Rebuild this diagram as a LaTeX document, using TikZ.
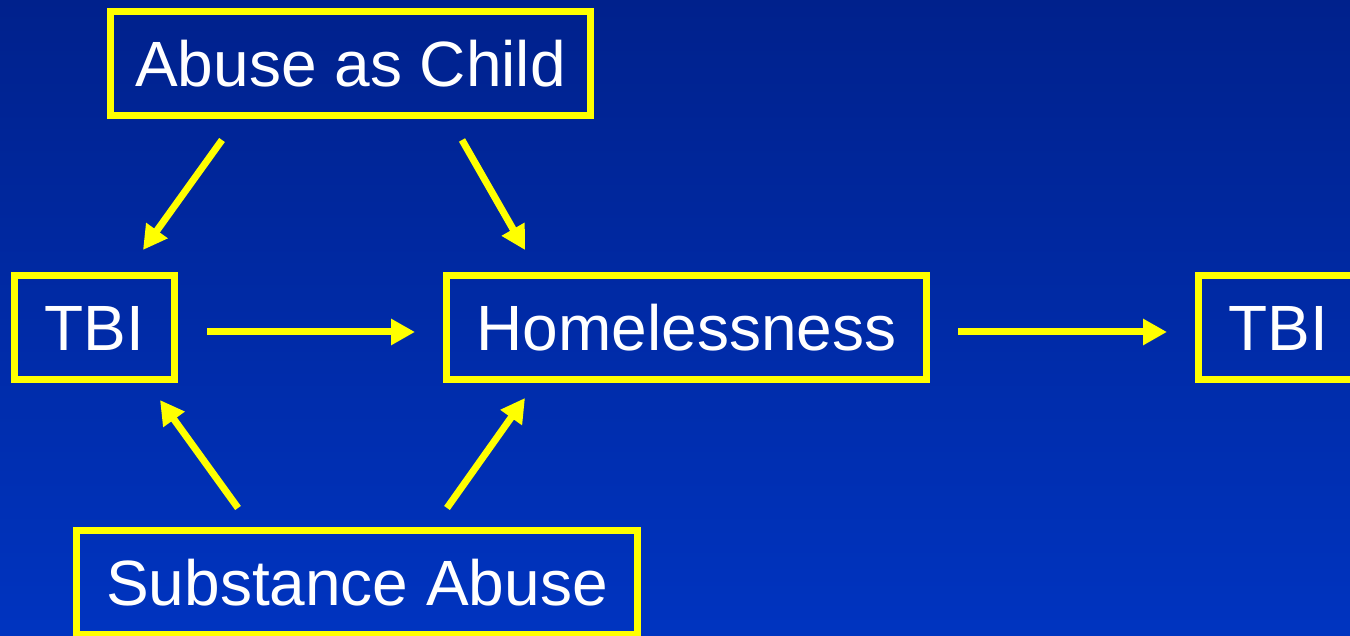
\documentclass[tikz,border=0pt]{standalone}
\usepackage{fontspec}
\setmainfont{Liberation Sans}
\usetikzlibrary{arrows.meta}
\definecolor{slideblue}{RGB}{0,33,140}
\definecolor{slideblue2}{RGB}{0,52,192}
\definecolor{boxyellow}{RGB}{255,255,0}

\begin{document}
\begin{tikzpicture}[x=1pt,y=1pt,
        box/.style={draw=boxyellow, line width=7pt, text=white, inner sep=0pt,
            font=\fontsize{64}{76}\selectfont, text height=46pt, text depth=0pt,
            minimum height=104pt},
        link/.style={draw=boxyellow, line width=7pt,
            -{Triangle[length=24pt,width=25pt]}}]
    % slide background
    \clip (0,0) rectangle (1350,636);
    \shade [top color=slideblue, bottom color=slideblue2] (0,0) rectangle (1350,636);
    % boxes
    \node (abuse) at (350.5,572.5) [box, minimum width=480pt] {Abuse as Child};
    \node (tbiA) at (94.5,308.5) [box, minimum width=160pt] {TBI};
    \node (home) at (686.5,308.5) [box, minimum width=480pt] {Homelessness};
    \node (tbiB) at (1278.5,308.5) [box, minimum width=160pt] {TBI};
    \node (subst) at (357,53.5) [box, minimum width=561pt] {Substance Abuse};
    % arrows
    \draw [link] ([shift={(-128.5,-21)}]abuse.south) -- ([shift={(48.5,22)}]tbiA.north);
    \draw [link] ([shift={(111.5,-21)}]abuse.south) -- ([shift={(-161.5,22)}]home.north);
    \draw [link, shorten <=29pt, shorten >=28pt] ([yshift=-4.5pt]tbiA.east) -- ([yshift=-4.5pt]home.west);
    \draw [link, shorten <=28pt, shorten >=28pt] ([yshift=-4.5pt]home.east) -- ([yshift=-4.5pt]tbiB.west);
    \draw [link] ([shift={(-119,19)}]subst.north) -- ([shift={(65.5,-17)}]tbiA.south);
    \draw [link] ([shift={(90,19)}]subst.north) -- ([shift={(-161.5,-15)}]home.south);
\end{tikzpicture}
\end{document}
